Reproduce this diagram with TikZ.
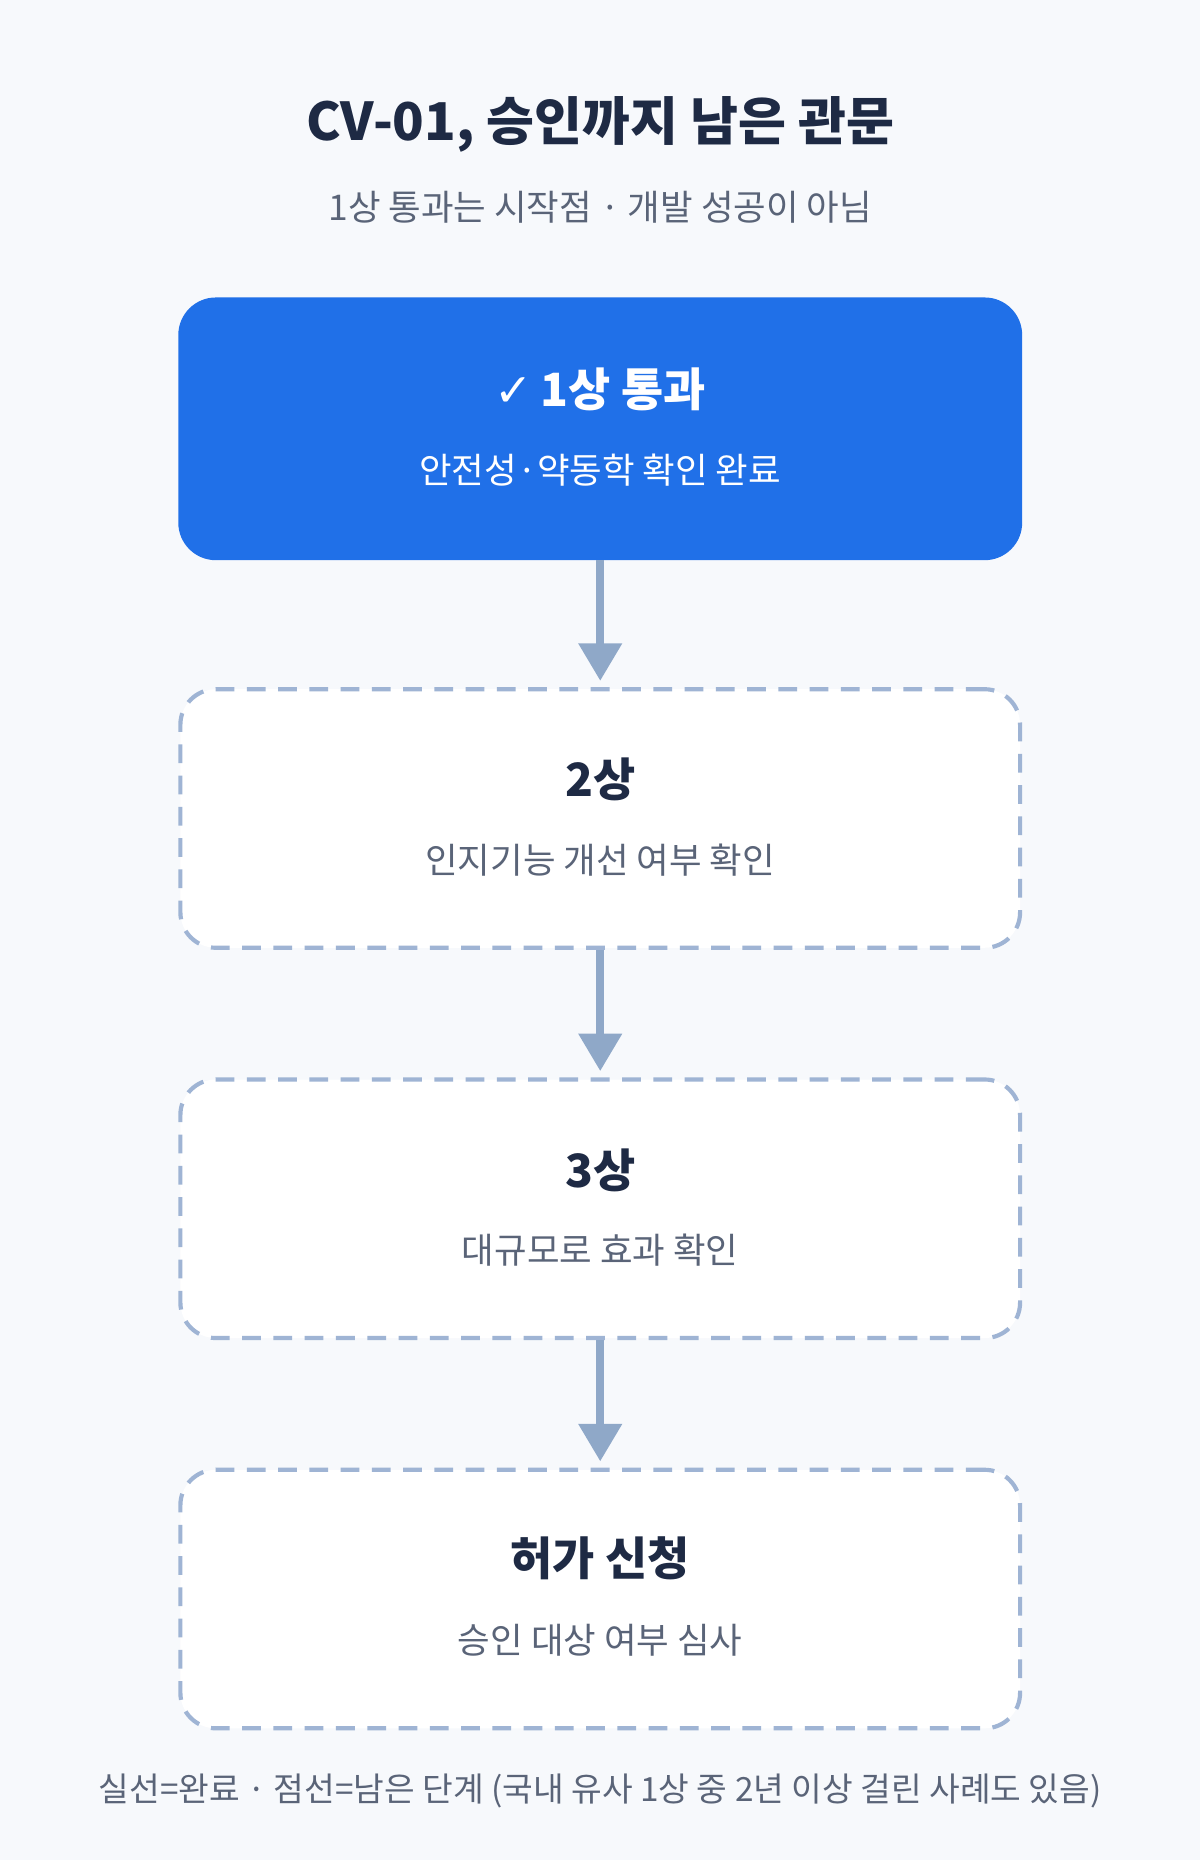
\documentclass[tikz,border=0pt]{standalone}
\usepackage{fontspec}
\setmainfont{Noto Sans CJK KR}
\newfontfamily\symfont{DejaVu Sans}
\usetikzlibrary{arrows.meta,positioning}
\definecolor{bgcol}{HTML}{F7F9FC}
\definecolor{navy}{HTML}{1E2A44}
\definecolor{greytext}{HTML}{5A6478}
\definecolor{doneblue}{HTML}{2070E8}
\definecolor{dashcol}{HTML}{9FB4D4}
\definecolor{arrowcol}{HTML}{8FA8C8}
\tikzset{
  stagebox/.style={rounded corners=17pt, minimum width=14.16cm, minimum height=4.36cm, line width=2pt},
  done/.style={stagebox, fill=doneblue, draw=doneblue},
  todo/.style={stagebox, fill=white, draw=dashcol, dash pattern=on 9pt off 6pt},
  head/.style={font=\fontsize{22}{26}\selectfont\bfseries, text=navy},
  sub/.style={font=\fontsize{17}{20}\selectfont, text=greytext},
  flow/.style={-{Triangle[length=18pt,width=20pt]}, line width=4pt, draw=arrowcol}
}
\begin{document}
\begin{tikzpicture}[x=0.02cm,y=-0.02cm]
    % Background
    \fill[bgcol] (0,0) rectangle (1012,1568);

    % Title
    \node[font=\fontsize{25}{30}\selectfont\bfseries, text=navy] (title) at (506,105) {CV-01, 승인까지 남은 관문};
    \node[sub] (subtitle) at (506,175) {1상 통과는 시작점 · 개발 성공이 아님};

    % Stages
    \node[done] (phase1) at (506,361.5) {};
    \node[todo] (phase2) at (506,690) {};
    \node[todo] (phase3) at (506,1019) {};
    \node[todo] (filing) at (506,1348) {};

    \node[head, text=white] (phase1head) at (506,328) {{\symfont ✓}\,1상 통과};
    \node[sub, text=white] (phase1sub) at (506,396) {안전성·약동학 확인 완료};
    \node[head] (phase2head) at (506,657) {2상};
    \node[sub] (phase2sub) at (506,725) {인지기능 개선 여부 확인};
    \node[head] (phase3head) at (506,987) {3상};
    \node[sub] (phase3sub) at (506,1054) {대규모로 효과 확인};
    \node[head] (filinghead) at (506,1314) {허가 신청};
    \node[sub] (filingsub) at (506,1383) {승인 대상 여부 심사};

    % Arrows
    \draw[flow] (phase1.south) -- ([yshift=3pt]phase2.north);
    \draw[flow] (phase2.south) -- ([yshift=3pt]phase3.north);
    \draw[flow] (phase3.south) -- ([yshift=3pt]filing.north);

    % Legend
    \node[sub, font=\fontsize{16}{19}\selectfont] (legend) at (506,1510) {실선=완료 · 점선=남은 단계 (국내 유사 1상 중 2년 이상 걸린 사례도 있음)};
\end{tikzpicture}
\end{document}
